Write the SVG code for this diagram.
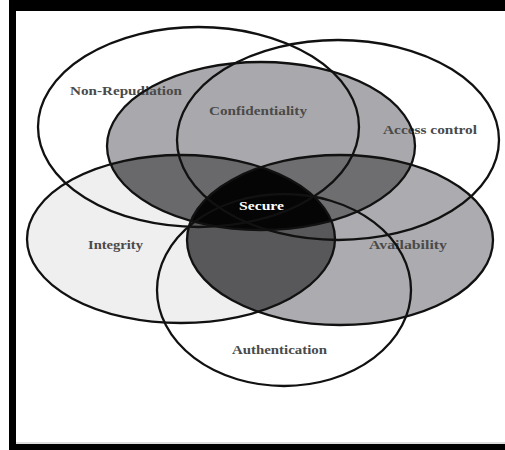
<svg xmlns="http://www.w3.org/2000/svg" width="505" height="450" viewBox="0 0 505 450">
<style>
.o{fill:none;stroke:#111;stroke-width:2.3}
.t{font-family:"Liberation Serif","Times New Roman",serif;font-size:12.5px;font-weight:bold;fill:#4a4a4a;lengthAdjust:spacingAndGlyphs}
.w{fill:#fff}
</style>
<defs>
<clipPath id="clipC"><ellipse cx="261" cy="146" rx="154" ry="84"/></clipPath>
<clipPath id="clipI"><ellipse cx="181" cy="239" rx="154" ry="84"/></clipPath>
</defs>
<rect width="505" height="450" fill="#fff"/>
<g id="frame">
<rect x="9" y="0" width="496" height="11" fill="#000"/>
<rect x="9" y="0" width="7" height="450" fill="#000"/>
<rect x="9" y="444" width="496" height="6" fill="#000"/>
<line x1="16" y1="443" x2="505" y2="443" stroke="#bbb" stroke-width="1"/>
</g>
<g id="regions">
<ellipse cx="181" cy="239" rx="154" ry="84" fill="#efefef"/>
<ellipse cx="340" cy="240" rx="153" ry="85" fill="#acacb0"/>
<ellipse cx="261" cy="146" rx="154" ry="84" fill="#a9a9ad"/>
<g clip-path="url(#clipC)">
<ellipse cx="181" cy="239" rx="154" ry="84" fill="#69696c"/>
<ellipse cx="340" cy="240" rx="153" ry="85" fill="#6e6e71"/>
</g>
<g clip-path="url(#clipI)">
<ellipse cx="340" cy="240" rx="153" ry="85" fill="#58585b"/>
<g clip-path="url(#clipC)">
<ellipse cx="340" cy="240" rx="153" ry="85" fill="#050505"/>
</g>
</g>
</g>
<g id="non-repudiation">
<ellipse class="o" cx="198.5" cy="127" rx="160.5" ry="100"/>
<text class="t" x="70" y="95" textLength="112" lengthAdjust="spacingAndGlyphs">Non-Repudiation</text>
</g>
<g id="access-control">
<ellipse class="o" cx="338" cy="140" rx="161" ry="100"/>
<text class="t" x="383" y="134" textLength="94" lengthAdjust="spacingAndGlyphs">Access control</text>
</g>
<g id="integrity">
<ellipse class="o" cx="181" cy="239" rx="154" ry="84"/>
<text class="t" x="88" y="249" textLength="55" lengthAdjust="spacingAndGlyphs">Integrity</text>
</g>
<g id="availability">
<ellipse class="o" cx="340" cy="240" rx="153" ry="85"/>
<text class="t" x="369" y="249" textLength="78" lengthAdjust="spacingAndGlyphs">Availability</text>
</g>
<g id="confidentiality">
<ellipse class="o" cx="261" cy="146" rx="154" ry="84"/>
<text class="t" x="209" y="115" textLength="98" lengthAdjust="spacingAndGlyphs">Confidentiality</text>
</g>
<g id="authentication">
<ellipse class="o" cx="284" cy="290" rx="127" ry="96"/>
<text class="t" x="232" y="354" textLength="95" lengthAdjust="spacingAndGlyphs">Authentication</text>
</g>
<g id="secure">
<text class="t w" x="239" y="210" textLength="45" lengthAdjust="spacingAndGlyphs" style="fill:#fff">Secure</text>
</g>
</svg>
